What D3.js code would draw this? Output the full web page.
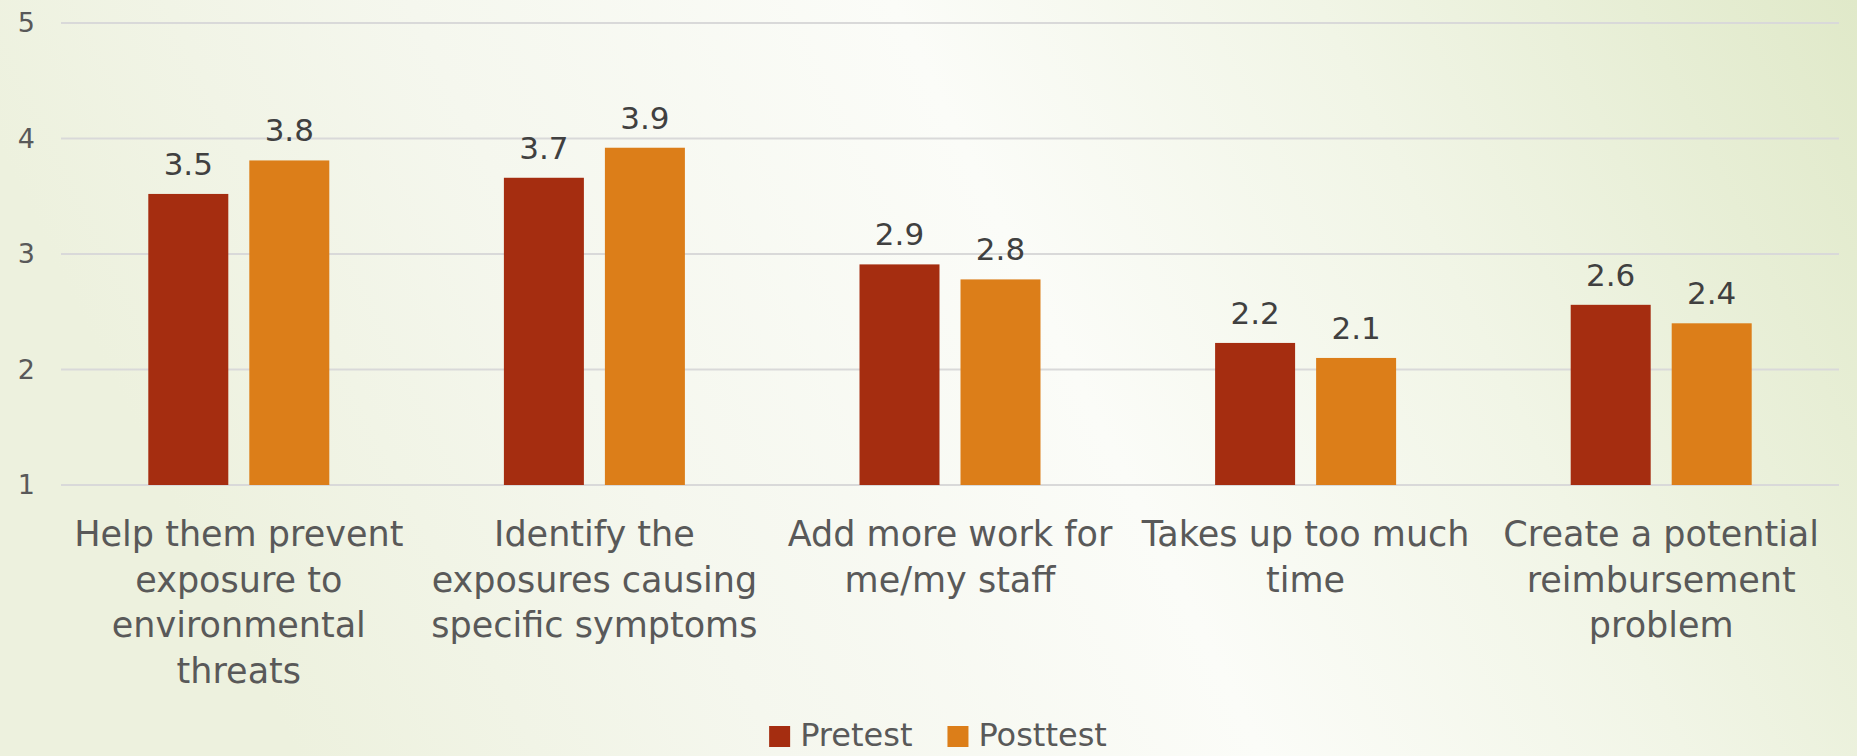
<!DOCTYPE html>
<html>
<head>
<meta charset="utf-8">
<script src="https://cdn.jsdelivr.net/npm/d3@7"></script>
<style>
  html, body { margin: 0; padding: 0; overflow: hidden; }
  svg { display: block; font-family: "DejaVu Sans", sans-serif; }
</style>
</head>
<body>
<div id="chart"></div>
<script>
// data
const categories = [
  "Help them prevent\nexposure to\nenvironmental\nthreats",
  "Identify the\nexposures causing\nspecific symptoms",
  "Add more work for\nme/my staff",
  "Takes up too much\ntime",
  "Create a potential\nreimbursement\nproblem"
];
const seriesNames = ["Pretest", "Posttest"];
const pretest = [3.52, 3.66, 2.91, 2.23, 2.56];
const posttest = [3.81, 3.92, 2.78, 2.10, 2.40];
const yTicks = [1, 2, 3, 4, 5];

const colors = { Pretest: "#a52d10", Posttest: "#dc7e19" };

// chart dimensions
const svgWidth = 1857,
      svgHeight = 756,
      plotLeft = 61,
      plotRight = 1839,
      plotTop = 23,
      plotBottom = 485;

const svg = d3.select("#chart")
  .append("svg")
  .attr("width", svgWidth)
  .attr("height", svgHeight);

// background gradient
const defs = svg.append("defs");
const grad = defs.append("linearGradient")
  .attr("id", "bg")
  .attr("x1", "0%").attr("y1", "20%")
  .attr("x2", "100%").attr("y2", "0%");
[["0%", "#edf1de"], ["25%", "#f5f7ee"], ["50%", "#fbfcf8"], ["72%", "#f1f5e6"], ["100%", "#e0e9c9"]]
  .forEach(([o, c]) => grad.append("stop").attr("offset", o).attr("stop-color", c));

svg.append("rect")
  .attr("width", svgWidth)
  .attr("height", svgHeight)
  .attr("fill", "url(#bg)");

const rows = categories.map((c, i) => ({ cat: c, Pretest: pretest[i], Posttest: posttest[i] }));

// scales
const x0 = d3.scaleBand()
  .domain(categories)
  .range([plotLeft, plotRight]);

const groupW = 181;
const x1 = d3.scaleBand()
  .domain(seriesNames)
  .range([(x0.bandwidth() - groupW) / 2, (x0.bandwidth() + groupW) / 2])
  .paddingInner(0.208);

const y = d3.scaleLinear()
  .domain([1, 5])
  .range([plotBottom, plotTop]);

// gridlines
svg.append("g")
  .selectAll("line")
  .data(yTicks)
  .enter()
  .append("line")
  .attr("x1", plotLeft)
  .attr("x2", plotRight)
  .attr("y1", d => y(d))
  .attr("y2", d => y(d))
  .attr("stroke", "#d9d9d9")
  .attr("stroke-width", 2);

// y axis labels
const leftAxis = d3.axisLeft(y).tickValues(yTicks).tickSize(0).tickPadding(0).tickFormat(d3.format("d"));
const yAxis = svg.append("g")
  .attr("transform", "translate(35, 0)")
  .call(leftAxis);
yAxis.select(".domain").remove();
yAxis.selectAll("text")
  .attr("fill", "#595959")
  .style("font-size", "27px")
  .style("font-family", "DejaVu Sans, sans-serif");

// bars
const groups = svg.append("g")
  .selectAll("g")
  .data(rows)
  .enter()
  .append("g")
  .attr("transform", d => `translate(${x0(d.cat)}, 0)`);

groups.selectAll("rect")
  .data(d => seriesNames.map(s => ({ s, v: d[s] })))
  .enter()
  .append("rect")
  .attr("x", d => x1(d.s))
  .attr("width", x1.bandwidth())
  .attr("y", d => y(d.v))
  .attr("height", d => y(1) - y(d.v))
  .attr("fill", d => colors[d.s]);

// value labels
groups.selectAll("text.val")
  .data(d => seriesNames.map(s => ({ s, v: d[s] })))
  .enter()
  .append("text")
  .classed("val", true)
  .attr("x", d => x1(d.s) + x1.bandwidth() / 2)
  .attr("y", d => y(d.v) - 19)
  .attr("text-anchor", "middle")
  .attr("fill", "#404040")
  .style("font-size", "31px")
  .text(d => d3.format(".1f")(d.v));

// category labels
const bottomAxis = d3.axisBottom(x0).tickSize(0).tickPadding(0);
const xAxis = svg.append("g")
  .attr("transform", `translate(0, ${plotBottom})`)
  .call(bottomAxis);
xAxis.select(".domain").remove();
xAxis.selectAll("text").each(function(d) {
  const t = d3.select(this).text("")
    .attr("y", 0).attr("dy", null)
    .attr("fill", "#595959")
    .style("font-size", "35px")
    .style("font-family", "DejaVu Sans, sans-serif");
  d.split("\n").forEach((line, i) => {
    t.append("tspan")
      .attr("x", 0)
      .attr("y", 61 + i * 45.5)
      .text(line);
  });
});

// legend
const legend = svg.append("g");
let lx = 0;
seriesNames.forEach((s, i) => {
  const item = legend.append("g").attr("transform", `translate(${lx}, 0)`);
  item.append("rect")
    .attr("x", 0).attr("y", 726)
    .attr("width", 21).attr("height", 21)
    .attr("fill", colors[s]);
  const txt = item.append("text")
    .attr("x", 31).attr("y", 746)
    .attr("fill", "#595959")
    .style("font-size", "32px")
    .text(s);
  lx += 31 + txt.node().getComputedTextLength() + 35;
});
const legendW = lx - 35;
legend.attr("transform", `translate(${938 - legendW / 2}, 0)`);
</script>
</body>
</html>
